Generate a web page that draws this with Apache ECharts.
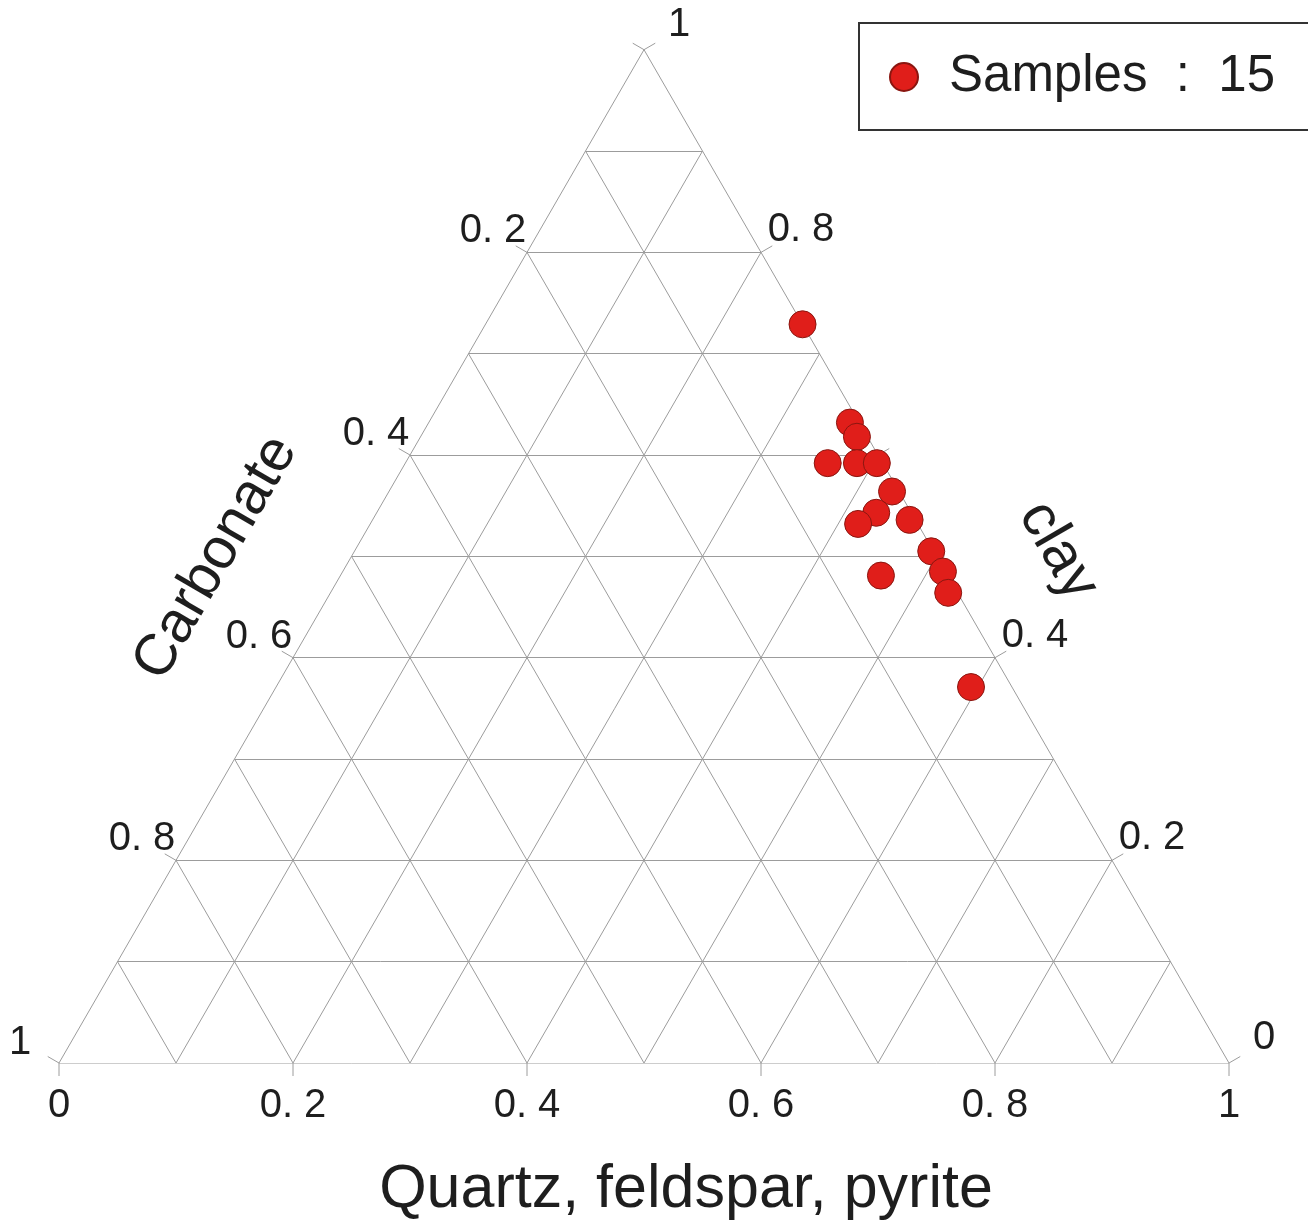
<!DOCTYPE html>
<html>
<head>
<meta charset="utf-8">
<script src="https://cdn.jsdelivr.net/npm/echarts/dist/echarts.min.js"></script>
<style>html,body{margin:0;padding:0;background:#fff}#chart{width:1308px;height:1223px}</style>
</head>
<body>
<div id="chart"></div>
<script>
// ---- sample composition (fractions) ----
const clay      = [0.729, 0.632, 0.618, 0.592, 0.592, 0.592, 0.564, 0.543, 0.536, 0.532, 0.505, 0.485, 0.481, 0.464, 0.371];
const quartz    = [0.271, 0.360, 0.373, 0.361, 0.386, 0.403, 0.430, 0.427, 0.459, 0.417, 0.493, 0.513, 0.462, 0.528, 0.594];
const carbonate = [0.000, 0.008, 0.009, 0.047, 0.022, 0.005, 0.006, 0.030, 0.005, 0.051, 0.002, 0.002, 0.057, 0.008, 0.035];

// ---- grid / ticks ----
const gridSteps = [0.1, 0.2, 0.3, 0.4, 0.5, 0.6, 0.7, 0.8, 0.9];
const tickSteps = [0, 0.2, 0.4, 0.6, 0.8, 1];
const quartzTickValues = [0, 0.2, 0.4, 0.6, 0.8, 1];
const quartzTickLabels = ['0', '0. 2', '0. 4', '0. 6', '0. 8', '1'];
const carbonateTickValues = [1, 0.8, 0.6, 0.4, 0.2];
const carbonateTickLabels = ['1', '0. 8', '0. 6', '0. 4', '0. 2'];
const clayTickValues = [0, 0.2, 0.4, 0.8, 1];
const clayTickLabels = ['0', '0. 2', '0. 4', '0. 8', '1'];

const FONT = '"Liberation Sans", Arial, Helvetica, sans-serif';
const GRID_COLOR = '#9c9c9c';

// ternary (quartz, clay) -> cartesian data coordinates (x, y); carbonate = 1 - quartz - clay
function tern(q, c) { return [q + c / 2, c]; }

// grid lines
const gridLines = [];
gridSteps.forEach(t => {
  gridLines.push({ coords: [tern(0, t), tern(1 - t, t)] });          // constant clay
  gridLines.push({ coords: [tern(t, 0), tern(t, 1 - t)] });          // constant quartz
  gridLines.push({ coords: [tern(1 - t, 0), tern(0, 1 - t)] });      // constant carbonate
});
// outline
gridLines.push({ coords: [tern(0, 0), tern(1, 0)] });
gridLines.push({ coords: [tern(1, 0), tern(0, 1)] });
gridLines.push({ coords: [tern(0, 1), tern(0, 0)] });

// tick marks: [x, y, dirx, diry]
const tickData = [];
tickSteps.forEach(s => {
  const b = tern(s, 0); tickData.push([b[0], b[1], 0, 1]);
  const l = tern(0, s); tickData.push([l[0], l[1], -0.866, -0.5]);
  const r = tern(1 - s, s); tickData.push([r[0], r[1], 0.866, -0.5]);
});

// off: offset for multi-char labels, off1: offset for single-char labels
function labelSeries(pts, texts, off, off1) {
  return {
    type: 'custom', silent: true, clip: false, z: 3,
    data: pts,
    renderItem: (params, api) => {
      const p = api.coord([api.value(0), api.value(1)]);
      const t = texts[params.dataIndex];
      const o = t.length === 1 ? off1 : off;
      return {
        type: 'text', x: p[0] + o[0], y: p[1] + o[1],
        style: {
          text: t, font: '40px ' + FONT, fill: '#1e1e1e',
          align: 'center', verticalAlign: 'middle', textAlign: 'center', textVerticalAlign: 'middle'
        }
      };
    }
  };
}

const chart = echarts.init(document.getElementById('chart'), null, { renderer: 'canvas' });
const option = {
  backgroundColor: '#fff',
  animation: false,
  grid: { left: 59, right: 79, top: 49.7, bottom: 160, containLabel: false },
  xAxis: { type: 'value', min: 0, max: 1, show: false },
  yAxis: { type: 'value', min: 0, max: 1, show: false },
  legend: {
    data: ['Samples'],
    left: 859, top: 23,
    padding: [25, 70, 24, 30],
    borderColor: '#333', borderWidth: 2,
    itemWidth: 28, itemHeight: 28,
    icon: 'circle',
    formatter: n => n + '  :  ' + clay.length,
    textStyle: { fontSize: 51, fontFamily: FONT, color: '#1e1e1e', lineHeight: 58, padding: [0, 0, 0, 26] }
  },
  graphic: [
    { type: 'text', x: 686, y: 1190, silent: true,
      style: { text: 'Quartz, feldspar, pyrite', font: '61px ' + FONT, fill: '#1e1e1e',
               align: 'center', verticalAlign: 'middle', textAlign: 'center', textVerticalAlign: 'middle' } },
    { type: 'text', x: 216, y: 558, rotation: Math.PI / 3, silent: true,
      style: { text: 'Carbonate', font: '58px ' + FONT, fill: '#1e1e1e',
               align: 'center', verticalAlign: 'middle', textAlign: 'center', textVerticalAlign: 'middle' } },
    { type: 'text', x: 1058, y: 551, rotation: -Math.PI / 3, silent: true,
      style: { text: 'clay', font: '58px ' + FONT, fill: '#1e1e1e',
               align: 'center', verticalAlign: 'middle', textAlign: 'center', textVerticalAlign: 'middle' } }
  ],
  series: [
    {
      type: 'lines', coordinateSystem: 'cartesian2d', silent: true, z: 1,
      lineStyle: { color: GRID_COLOR, width: 1, opacity: 1 },
      data: gridLines
    },
    {
      type: 'custom', silent: true, clip: false, z: 1,
      data: tickData,
      renderItem: (params, api) => {
        const p = api.coord([api.value(0), api.value(1)]);
        const L = 13;
        return { type: 'line',
          shape: { x1: p[0], y1: p[1], x2: p[0] + api.value(2) * L, y2: p[1] + api.value(3) * L },
          style: { stroke: GRID_COLOR, lineWidth: 1 } };
      }
    },
    labelSeries(quartzTickValues.map(v => tern(v, 0)), quartzTickLabels, [0, 42.5], [0, 42.5]),
    labelSeries(carbonateTickValues.map(v => tern(0, 1 - v)), carbonateTickLabels, [-34, -21], [-39, -20]),
    labelSeries(clayTickValues.map(v => tern(1 - v, v)), clayTickLabels, [40, -22], [35, -25]),
    {
      name: 'Samples', type: 'scatter', z: 5,
      symbol: 'circle', symbolSize: 27,
      itemStyle: { color: '#e01e1a', borderColor: '#8a1610', borderWidth: 1, opacity: 1 },
      data: clay.map((c, i) => tern(quartz[i], c).concat([carbonate[i]]))
    }
  ]
};
chart.setOption(option);
</script>
</body>
</html>
